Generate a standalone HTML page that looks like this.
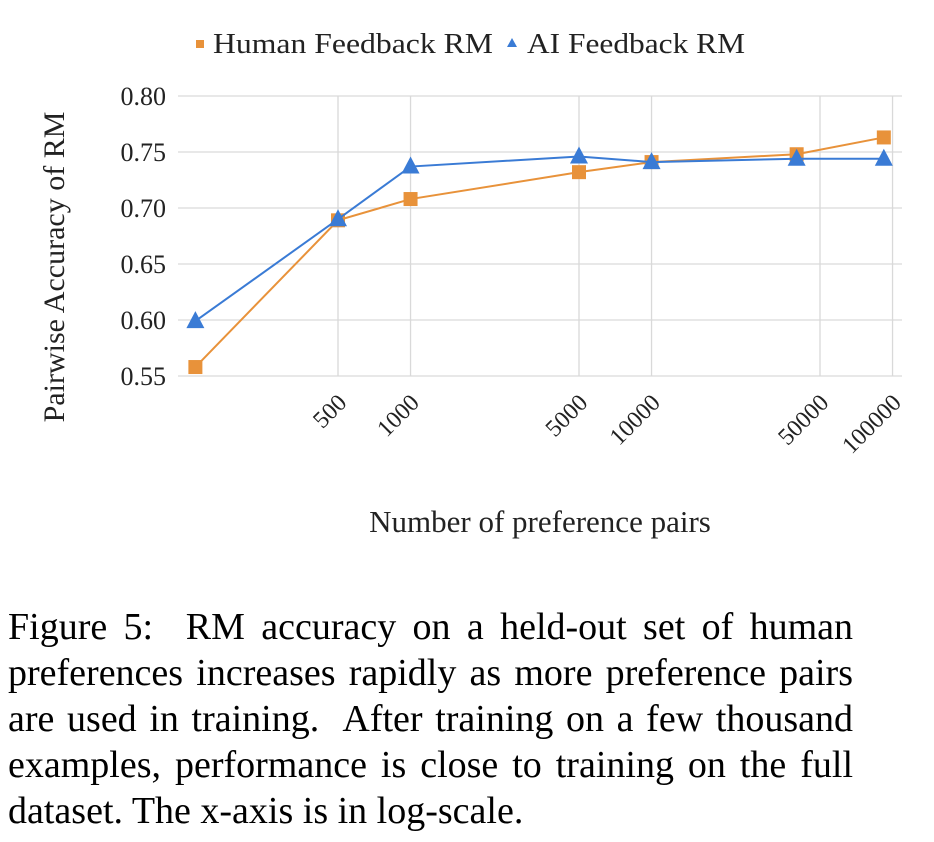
<!DOCTYPE html>
<html><head><meta charset="utf-8"><style>
body{margin:0;background:#fff;width:934px;height:842px;overflow:hidden;position:relative}
svg{position:absolute;left:0;top:0}
.cap{position:absolute;left:8px;top:604px;width:845px;font-family:"Liberation Serif",serif;font-size:38px;line-height:46px;color:#000}
.cap div{text-align:justify;text-align-last:justify;white-space:nowrap}
.cap div.last{text-align-last:left}
</style></head><body>
<svg id="chart" width="934" height="600" font-family="Liberation Serif, serif"></svg>
<div class="cap">
<div>Figure 5:&nbsp; RM accuracy on a held-out set of human</div>
<div>preferences increases rapidly as more preference pairs</div>
<div>are used in training.&nbsp; After training on a few thousand</div>
<div>examples, performance is close to training on the full</div>
<div class="last">dataset. The x-axis is in log-scale.</div>
</div>
<script>
const xValues=[128,500,1000,5000,10000,40000,92000];
const humanValues=[0.558,0.689,0.708,0.732,0.741,0.748,0.763];
const aiValues=[0.599,0.690,0.737,0.746,0.741,0.744,0.744];
const yTicks=[0.55,0.60,0.65,0.70,0.75,0.80];
const yTickLabels=["0.55","0.60","0.65","0.70","0.75","0.80"];
const xTicks=[500,1000,5000,10000,50000,100000];
const xTickLabels=["500","1000","5000","10000","50000","100000"];
const NS="http://www.w3.org/2000/svg";
const svg=document.getElementById('chart');
const L=178,R=902,T=96,B=376;
function xs(v){return 338+(Math.log10(v)-Math.log10(500))*241;}
function ys(v){return B-(v-0.55)/0.25*(B-T);}
function mk(tag,attrs,parent){const e=document.createElementNS(NS,tag);for(const k in attrs)e.setAttribute(k,attrs[k]);(parent||svg).appendChild(e);return e;}
yTicks.forEach((t,i)=>{
 const g=mk('line',{x1:L,x2:R,y1:ys(t),y2:ys(t),stroke:'#d9d9d9','stroke-width':1.3});
 
 
 const tx=mk('text',{x:166,y:ys(t)+9,'text-anchor':'end','font-size':26,fill:'#222'});
 tx.textContent=yTickLabels[i];
 
 
});
xTicks.forEach((t,i)=>{
 const x=xs(t);
 const g=mk('line',{x1:x,x2:x,y1:T,y2:B,stroke:'#d9d9d9','stroke-width':1.3});
 
 
 const tx=mk('text',{x:x+10,y:404,'text-anchor':'end','font-size':24,fill:'#222',transform:`rotate(-45 ${x+10} 404)`});
 tx.textContent=xTickLabels[i];
 
 
});
function series(vals,color,shape,name){
 const pts=vals.map((v,i)=>xs(xValues[i])+','+ys(v)).join(' ');
 const pl=mk('polyline',{points:pts,fill:'none',stroke:color,'stroke-width':2});
 
 
 vals.forEach((v,i)=>{
  const x=xs(xValues[i]),y=ys(v);let m;
  if(shape==='sq')m=mk('rect',{x:x-7,y:y-7,width:14,height:14,fill:color});
  else m=mk('polygon',{points:`${x},${y-10} ${x-9},${y+7} ${x+9},${y+7}`,fill:color});
  
  
 });
}
series(humanValues,'#e8923a','sq','human-feedback');
series(aiValues,'#3a7bd5','tri','ai-feedback');
const ls=mk('rect',{x:196,y:40,width:8,height:8,fill:'#e8923a'});


const lt1=mk('text',{x:213,y:53,'font-size':29,fill:'#222',textLength:280,lengthAdjust:'spacingAndGlyphs'});lt1.textContent='Human Feedback RM';


const la=mk('polygon',{points:'512,38 507,47 517,47',fill:'#3a7bd5'});


const lt2=mk('text',{x:527,y:53,'font-size':29,fill:'#222',textLength:218,lengthAdjust:'spacingAndGlyphs'});lt2.textContent='AI Feedback RM';


const yt=mk('text',{x:64,y:267,'text-anchor':'middle','font-size':30,fill:'#222',transform:'rotate(-90 64 267)'});
yt.textContent='Pairwise Accuracy of RM';


const xt=mk('text',{x:540,y:532,'text-anchor':'middle','font-size':31,fill:'#222'});
xt.textContent='Number of preference pairs';


</script>
</body></html>
